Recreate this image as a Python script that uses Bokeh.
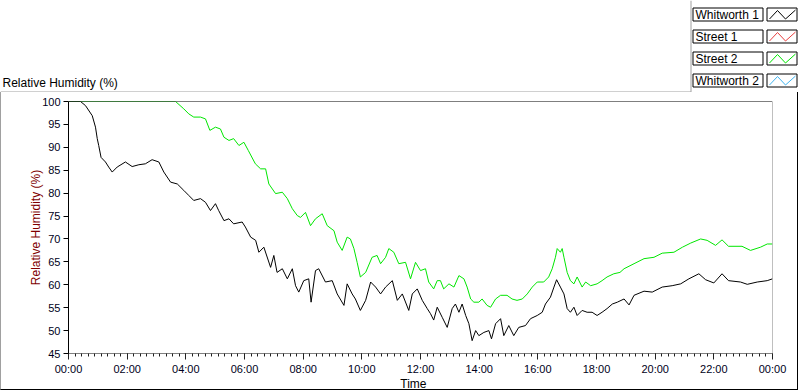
from bokeh.plotting import figure
from bokeh.models import Range1d, FixedTicker, Span
from bokeh.layouts import column
from bokeh.core.properties import value
from bokeh.embed import file_html
from bokeh.resources import INLINE

# ---- data (hours since midnight, relative humidity %) ----
hours_whitworth1 = [0.0, 0.41, 0.58, 0.81, 0.92, 0.98, 1.03, 1.11, 1.26, 1.37, 1.49, 1.66, 1.94, 2.17,
                    2.40, 2.62, 2.85, 3.08, 3.25, 3.48, 3.71, 3.93, 4.10, 4.27, 4.50, 4.67, 4.84, 5.01,
                    5.12, 5.30, 5.47, 5.63, 5.92, 6.03, 6.21, 6.38, 6.49, 6.66, 6.89, 7.00, 7.11, 7.29,
                    7.46, 7.63, 7.74, 7.85, 8.02, 8.19, 8.27, 8.42, 8.53, 8.76, 8.99, 9.16, 9.39, 9.50,
                    9.67, 9.78, 9.95, 10.13, 10.30, 10.47, 10.64, 10.81, 11.04, 11.21, 11.38, 11.60,
                    11.72, 11.89, 12.06, 12.23, 12.34, 12.45, 12.57, 12.74, 12.91, 13.08, 13.19, 13.31,
                    13.42, 13.54, 13.65, 13.76, 13.88, 13.99, 14.16, 14.33, 14.42, 14.56, 14.73, 14.84,
                    15.01, 15.18, 15.35, 15.58, 15.75, 15.98, 16.15, 16.26, 16.43, 16.55, 16.64, 16.77,
                    16.89, 17.00, 17.11, 17.23, 17.34, 17.51, 17.68, 17.85, 18.02, 18.19, 18.36, 18.54,
                    18.71, 18.94, 19.11, 19.28, 19.62, 19.90, 20.24, 20.58, 20.87, 21.15, 21.49, 21.72,
                    22.00, 22.28, 22.50, 22.91, 23.14, 23.48, 23.82, 24.0]
rh_whitworth1 = [100, 100, 99.1, 96.9, 94.4, 91.9, 90.4, 87.8, 86.8, 85.7, 84.6, 85.7, 86.8, 85.8,
                 86.2, 86.4, 87.3, 86.8, 84.6, 82.4, 82.0, 80.6, 79.5, 78.4, 78.8, 78.0, 76.2, 77.7,
                 76.2, 74.0, 74.4, 73.3, 73.7, 72.6, 70.4, 69.7, 67.1, 68.2, 63.8, 66.4, 62.7, 63.5,
                 61.3, 63.5, 59.8, 58.4, 60.9, 61.3, 56.2, 63.1, 63.5, 60.6, 60.9, 58.0, 55.5, 60.2,
                 58.0, 56.9, 54.4, 56.6, 60.6, 59.5, 58.0, 59.5, 60.9, 56.6, 58.0, 54.4,
                 58.0, 59.1, 56.6, 54.8, 53.7, 52.3, 55.1, 52.9, 50.7, 54.8, 55.8, 54.0,
                 55.8, 53.3, 51.5, 47.8, 50.0, 48.9, 49.6, 50.0, 48.2, 51.5, 52.6, 48.9,
                 51.1, 48.9, 50.7, 51.1, 52.6, 53.3, 54.0, 55.8, 57.3, 59.5, 61.1, 59.5,
                 58.0, 54.8, 54.0, 55.1, 53.3, 54.4, 54.0, 54.0, 53.3, 54.0, 54.8, 55.8,
                 56.2, 56.9, 55.6, 57.7, 58.6, 58.4, 59.5, 59.8, 60.2, 61.3, 62.4, 61.1,
                 60.4, 62.4, 60.9, 60.6, 60.1, 60.6, 60.9, 61.3]

hours_street2 = [0.0, 3.65, 3.93, 4.10, 4.27, 4.50, 4.67, 4.82, 5.01, 5.18, 5.30, 5.47, 5.63, 5.81,
                 5.98, 6.13, 6.37, 6.55, 6.72, 6.83, 7.06, 7.29, 7.46, 7.63, 7.80, 7.91, 8.08, 8.25,
                 8.42, 8.65, 8.82, 9.05, 9.16, 9.33, 9.50, 9.61, 9.73, 9.84, 9.95, 10.13, 10.35,
                 10.52, 10.64, 10.81, 10.92, 11.09, 11.26, 11.49, 11.66, 11.83, 12.00, 12.17, 12.28,
                 12.45, 12.57, 12.68, 12.79, 12.97, 13.14, 13.31, 13.48, 13.59, 13.71, 13.82, 13.99,
                 14.10, 14.27, 14.39, 14.56, 14.73, 14.95, 15.12, 15.29, 15.47, 15.64, 15.81, 15.98,
                 16.20, 16.37, 16.49, 16.60, 16.66, 16.77, 16.83, 16.89, 17.00, 17.11, 17.23, 17.34,
                 17.51, 17.63, 17.80, 18.02, 18.19, 18.36, 18.59, 18.80, 18.94, 19.28, 19.62, 19.96,
                 20.24, 20.64, 20.93, 21.21, 21.55, 21.77, 22.06, 22.28, 22.50, 22.96, 23.25, 23.59,
                 23.82, 24.0]
rh_street2 = [100, 100, 98.4, 97.3, 96.6, 96.6, 96.2, 93.7, 94.4, 94.0, 92.2, 91.5, 91.9, 90.4,
              91.1, 89.3, 86.4, 85.3, 85.3, 82.0, 79.9, 80.2, 78.8, 76.6, 75.1, 74.7, 75.8, 72.9,
              74.4, 75.5, 72.9, 71.8, 69.3, 67.5, 70.4, 70.0, 67.9, 64.9, 61.7, 62.7, 66.0,
              66.4, 64.6, 66.0, 67.9, 67.1, 64.6, 64.9, 61.3, 64.9, 63.1, 63.5, 60.6,
              59.1, 60.9, 60.9, 59.1, 60.2, 59.5, 62.0, 61.3, 59.5, 56.9, 56.2, 56.2,
              56.9, 55.5, 55.1, 56.9, 57.7, 57.7, 56.9, 56.6, 56.9, 58.0, 59.5, 60.6,
              60.6, 61.7, 63.5, 66.0, 67.9, 67.1, 67.9, 66.0, 62.7, 60.9, 60.2, 61.7,
              59.5, 60.6, 59.8, 60.2, 60.9, 61.7, 62.4, 62.7, 63.5, 64.6, 65.7, 66.0,
              66.9, 67.1, 68.2, 69.1, 70.0, 69.7, 68.6, 69.8, 68.4, 68.4, 67.5, 68.2,
              68.9, 68.9]

x_tick_hours = [0, 2, 4, 6, 8, 10, 12, 14, 16, 18, 20, 22, 24]
x_tick_labels = ["00:00", "02:00", "04:00", "06:00", "08:00", "10:00", "12:00",
                 "14:00", "16:00", "18:00", "20:00", "22:00", "00:00"]
y_ticks = [45, 50, 55, 60, 65, 70, 75, 80, 85, 90, 95, 100]
legend_names = ["Whitworth 1", "Street 1", "Street 2", "Whitworth 2"]
legend_colors = ["#000000", "#e84040", "#00e600", "#40b4f0"]
chart_title = "Relative Humidity (%)"
y_label = "Relative Humidity (%)"
x_label = "Time"

FONT = "Liberation Sans"
WB = 796    # width of the chart body (plus 2px of borders)
WH = WB + 2 # header width
HH = 92     # header height
HM = 285    # main chart height
HF = 12     # footer height


def blank(width, height):
    f = figure(width=width, height=height, output_backend="svg", toolbar_location=None,
               x_range=Range1d(0, width), y_range=Range1d(height, 0),
               min_border=0, min_border_left=0, min_border_right=0,
               min_border_top=0, min_border_bottom=0)
    f.axis.visible = False
    f.grid.visible = False
    f.outline_line_color = None
    f.background_fill_color = "white"
    f.border_fill_color = "white"
    return f


# ---------------- header: title, legend, panel top edge ----------------
hdr = blank(WH, HH)
hdr.text(x=[2], y=[82], text=[chart_title], text_font=value(FONT), text_font_size="12px",
         text_color="black", text_baseline="middle", text_align="left")
hdr.segment(x0=[0, 690.5], y0=[91.5, 0], x1=[690.5, 690.5], y1=[91.5, 92],
            line_color="#a0a0a0", line_width=1)
row_top = [7.5 + 22 * i for i in range(len(legend_names))]
row_bot = [t + 13 for t in row_top]
hdr.quad(left=[692.5] * 4, right=[762.5] * 4, top=row_top, bottom=row_bot,
         fill_color="white", line_color="black", line_width=1)
hdr.quad(left=[766.5] * 4, right=[796.5] * 4, top=row_top, bottom=row_bot,
         fill_color="white", line_color="black", line_width=1)
hdr.text(x=[695] * 4, y=[t + 7 for t in row_top], text=legend_names, text_font=value(FONT),
         text_font_size="12px", text_color="black", text_baseline="middle", text_align="left")
zx = [769, 777, 785, 795]
hdr.multi_line(xs=[zx] * 4,
               ys=[[t + 11, t + 2.5, t + 11, t + 2] for t in row_top],
               line_color=legend_colors, line_width=1)

# ---------------- main chart ----------------
p = figure(width=WB, height=HM, output_backend="svg", toolbar_location=None,
           x_range=Range1d(0, 24), y_range=Range1d(45, 100),
           min_border_left=67, min_border_right=25, min_border_top=9, min_border_bottom=22)
p.outline_line_color = None
p.background_fill_color = "white"
p.border_fill_color = "white"
p.xgrid.visible = False
p.ygrid.visible = False

ya = p.yaxis[0]
ya.ticker = FixedTicker(ticks=y_ticks)
ya.axis_line_color = "black"
ya.major_tick_line_color = "black"
ya.major_tick_out = 5
ya.major_tick_in = 0
ya.minor_tick_out = 0
ya.minor_tick_in = 0
ya.major_label_text_font = FONT
ya.major_label_text_font_size = "11px"
ya.major_label_text_color = "#000020"
ya.major_label_standoff = 3
ya.axis_label = y_label
ya.axis_label_text_font = FONT
ya.axis_label_text_font_size = "12px"
ya.axis_label_text_font_style = "normal"
ya.axis_label_text_color = "#800000"
ya.axis_label_standoff = -4

minor = [i * 2.0 / 9.0 for i in range(0, 109)]
xa = p.xaxis[0]
xa.ticker = FixedTicker(ticks=x_tick_hours, minor_ticks=minor)
xa.major_label_overrides = {h: lab for h, lab in zip(x_tick_hours, x_tick_labels)}
xa.axis_line_color = "#808080"
xa.major_tick_line_color = "#202020"
xa.minor_tick_line_color = "#202020"
xa.major_tick_out = 6
xa.major_tick_in = 0
xa.minor_tick_out = 3
xa.minor_tick_in = 0
xa.major_label_text_font = FONT
xa.major_label_text_font_size = "11px"
xa.major_label_text_color = "#000020"
xa.major_label_standoff = 3

p.add_layout(Span(location=100, dimension="width", line_color="black", line_width=1))
p.add_layout(Span(location=24, dimension="height", line_color="#808080", line_width=1))

p.line(hours_street2, rh_street2, line_color=legend_colors[2], line_width=1)
p.line(hours_whitworth1, rh_whitworth1, line_color=legend_colors[0], line_width=1)

# ---------------- footer: x-axis title ----------------
ftr = blank(WB, HF)
ftr.text(x=[390], y=[6], text=[x_label], text_font=value(FONT), text_font_size="12px",
         text_color="black", text_baseline="middle", text_align="center")

body = column(p, ftr, spacing=0,
              styles={"border-left": "1px solid #a0a0a0", "border-right": "1px solid #000000",
                      "border-bottom": "1px solid #000000"})
page = column(hdr, body, spacing=0)

open("out.html", "w").write(file_html(page, INLINE))
